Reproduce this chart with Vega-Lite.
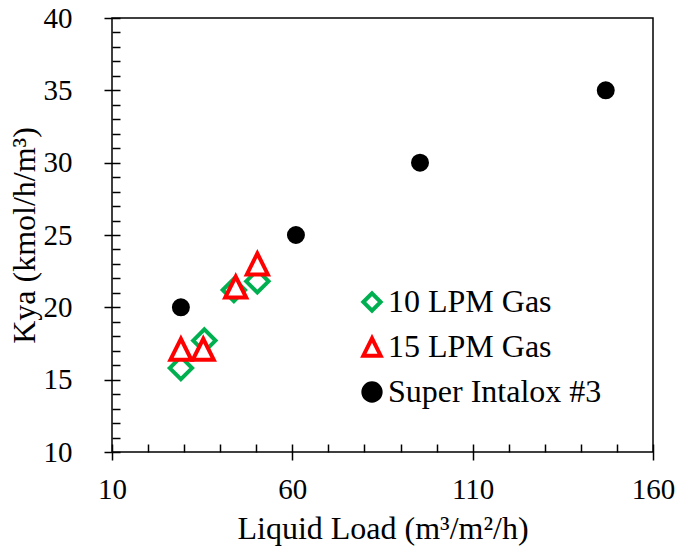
{
  "$schema": "https://vega.github.io/schema/vega-lite/v6.json",
  "width": 541,
  "height": 434,
  "autosize": {"type": "none"},
  "padding": {"left": 112, "top": 18, "right": 28, "bottom": 102},
  "background": "white",
  "config": {
    "view": {"stroke": "black", "strokeWidth": 1.5},
    "font": "Liberation Serif",
    "axis": {
      "grid": false,
      "domain": false,
      "labelFont": "Liberation Serif",
      "labelFontSize": 29,
      "labelColor": "black",
      "titleFont": "Liberation Serif",
      "titleFontSize": 32,
      "titleFontWeight": "normal",
      "titleColor": "black",
      "tickColor": "black",
      "tickWidth": 1.5,
      "labelFlush": false,
      "labelOverlap": false,
      "labelBound": false
    },
    "legend": {
      "labelFont": "Liberation Serif",
      "labelFontSize": 32,
      "labelColor": "black",
      "symbolStrokeWidth": 4,
      "symbolSize": 300,
      "rowPadding": 11,
      "labelOffset": 0,
      "labelLimit": 400
    }
  },
  "data": {
    "values": [
      {"series": "10 LPM Gas", "load": 29.1, "kya": 15.8},
      {"series": "10 LPM Gas", "load": 35.6, "kya": 17.7},
      {"series": "10 LPM Gas", "load": 43.8, "kya": 21.2},
      {"series": "10 LPM Gas", "load": 50.3, "kya": 21.8},
      {"series": "15 LPM Gas", "load": 29.1, "kya": 17.1},
      {"series": "15 LPM Gas", "load": 35.3, "kya": 17.1},
      {"series": "15 LPM Gas", "load": 44.3, "kya": 21.4},
      {"series": "15 LPM Gas", "load": 50.3, "kya": 23.0},
      {"series": "Super Intalox #3", "load": 29.1, "kya": 20.0},
      {"series": "Super Intalox #3", "load": 61.0, "kya": 25.0},
      {"series": "Super Intalox #3", "load": 95.4, "kya": 30.0},
      {"series": "Super Intalox #3", "load": 146.9, "kya": 35.0}
    ]
  },
  "encoding": {
    "x": {
      "field": "load",
      "type": "quantitative",
      "scale": {"domain": [10, 160], "nice": false, "zero": false},
      "axis": {
        "title": "Liquid Load (m³/m²/h)",
        "values": [10, 20, 30, 40, 50, 60, 70, 80, 90, 100, 110, 120, 130, 140, 150, 160],
        "offset": -8,
        "tickSize": {"condition": {"test": "datum.value % 50 == 10", "value": 16}, "value": 8},
        "labelExpr": "datum.value % 50 == 10 ? datum.label : ''",
        "labelFont": "Liberation Serif",
        "titleFont": "Liberation Serif",
        "labelPadding": 15,
        "titlePadding": 9
      }
    },
    "y": {
      "field": "kya",
      "type": "quantitative",
      "scale": {"domain": [10, 40], "nice": false, "zero": false},
      "axis": {
        "title": "Kya (kmol/h/m³)",
        "values": [10, 11, 12, 13, 14, 15, 16, 17, 18, 19, 20, 21, 22, 23, 24, 25, 26, 27, 28, 29, 30, 31, 32, 33, 34, 35, 36, 37, 38, 39, 40],
        "offset": -8,
        "tickSize": {"condition": {"test": "datum.value % 5 == 0", "value": 16}, "value": 8},
        "labelExpr": "datum.value % 5 == 0 ? datum.label : ''",
        "labelFont": "Liberation Serif",
        "titleFont": "Liberation Serif",
        "labelPadding": 32,
        "titlePadding": 2
      }
    },
    "shape": {
      "field": "series",
      "type": "nominal",
      "scale": {
        "domain": ["10 LPM Gas", "15 LPM Gas", "Super Intalox #3"],
        "range": ["diamond", "M0,-1L-1,1L1,1Z", "circle"]
      },
      "legend": {"title": null, "orient": "none", "legendX": 244, "legendY": 268, "labelFont": "Liberation Serif", "labelFontSize": 32}
    },
    "stroke": {
      "field": "series",
      "type": "nominal",
      "scale": {
        "domain": ["10 LPM Gas", "15 LPM Gas", "Super Intalox #3"],
        "range": ["#00B050", "#FF0000", "#000000"]
      },
      "legend": {"title": null, "orient": "none", "legendX": 244, "legendY": 268, "labelFont": "Liberation Serif", "labelFontSize": 32}
    },
    "fill": {
      "field": "series",
      "type": "nominal",
      "scale": {
        "domain": ["10 LPM Gas", "15 LPM Gas", "Super Intalox #3"],
        "range": ["#FFFFFF", "#FFFFFF", "#000000"]
      },
      "legend": {"title": null, "orient": "none", "legendX": 244, "legendY": 268, "labelFont": "Liberation Serif", "labelFontSize": 32}
    }
  },
  "layer": [
    {
      "transform": [{"filter": "datum.series == 'Super Intalox #3'"}],
      "mark": {"type": "point", "strokeWidth": 4, "opacity": 1, "fillOpacity": 1, "size": 196}
    },
    {
      "transform": [{"filter": "datum.series == '10 LPM Gas'"}],
      "mark": {"type": "point", "strokeWidth": 4, "opacity": 1, "fillOpacity": 1, "size": 500}
    },
    {
      "transform": [{"filter": "datum.series == '15 LPM Gas'"}],
      "mark": {"type": "point", "strokeWidth": 4, "opacity": 1, "fillOpacity": 1, "size": 440}
    }
  ]
}
